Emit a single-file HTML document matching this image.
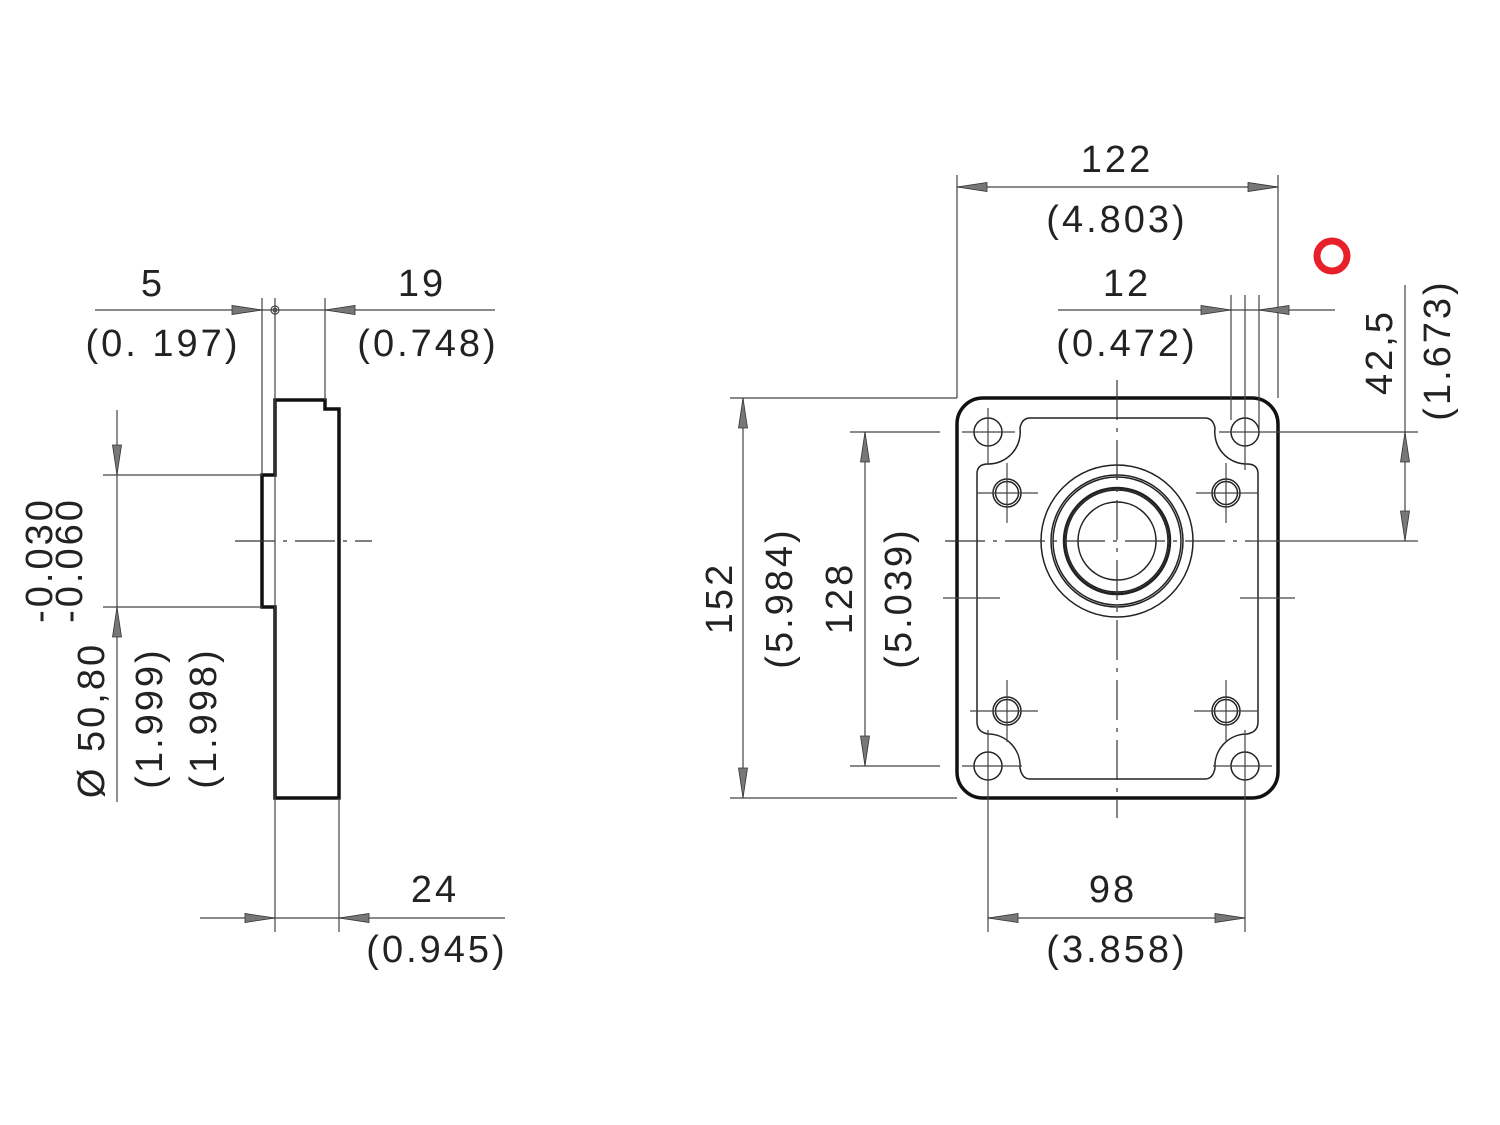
<!DOCTYPE html>
<html><head><meta charset="utf-8"><style>
html,body{margin:0;padding:0;background:#fff}
svg{display:block}
text{font-family:"Liberation Sans",sans-serif;font-size:38px;fill:#222;text-anchor:middle;letter-spacing:3px}
.t{stroke:#444;stroke-width:1.2;fill:none}
.k{stroke:#111;stroke-width:3.5;fill:none}
.m{stroke:#222;stroke-width:1.5;fill:none}
.c{stroke:#333;stroke-width:1.2;fill:none;stroke-dasharray:40 8 4 8}
</style></head><body>
<svg id="s" width="1500" height="1125" viewBox="0 0 1500 1125" xmlns="http://www.w3.org/2000/svg">
<!-- side view -->
<path class="k" d="M262,475 H275 V400 H325 V409 H339 V798 H275 V607 H262 Z"/>
<line class="c" x1="235" y1="541" x2="372" y2="541"/>
<line class="t" x1="262" y1="298" x2="262" y2="475"/>
<line class="t" x1="275" y1="298" x2="275" y2="932"/>
<line class="t" x1="325" y1="298" x2="325" y2="400"/>
<line class="t" x1="339" y1="798" x2="339" y2="932"/>
<line class="t" x1="95" y1="310" x2="495" y2="310"/>
<circle class="t" cx="275" cy="310" r="4"/><circle class="t" cx="275" cy="310" r="1.8"/>
<text x="153" y="296">5</text><text x="163" y="356">(0. 197)</text>
<text x="422" y="296">19</text><text x="428" y="356">(0.748)</text>
<line class="t" x1="200" y1="918" x2="505" y2="918"/>
<text x="435" y="902">24</text><text x="437" y="962">(0.945)</text>
<line class="t" x1="103" y1="475" x2="262" y2="475"/>
<line class="t" x1="103" y1="607" x2="262" y2="607"/>
<line class="t" x1="117" y1="410" x2="117" y2="802"/>
<text transform="translate(104,720) rotate(-90)">Ø 50,80</text>
<text transform="translate(162,718) rotate(-90)">(1.999)</text>
<text transform="translate(216,718) rotate(-90)">(1.998)</text>
<text transform="translate(52,560) rotate(-90)">-0.030</text>
<text transform="translate(82,560) rotate(-90)">-0.060</text>

<!-- front view -->
<rect class="k" x="957" y="398" width="321" height="400" rx="26"/>
<path class="m" d="M1030,418 H1205 Q1213,418 1215,428 A32 32 0 0 0 1247,464 Q1258,464 1258,474 V722 Q1258,732 1247,734 A32 32 0 0 0 1215,768 Q1213,779 1205,779 H1030 Q1022,779 1020,768 A32 32 0 0 0 988,734 Q977,732 977,722 V474 Q977,464 988,464 A32 32 0 0 0 1020,428 Q1022,418 1030,418 Z"/>
<g class="m">
<circle cx="988" cy="432" r="14"/><circle cx="1245" cy="432" r="14"/>
<circle cx="988" cy="766" r="14"/><circle cx="1245" cy="766" r="14"/>
<circle cx="1007" cy="493" r="14"/><circle cx="1007" cy="493" r="11.5"/>
<circle cx="1226" cy="493" r="14"/><circle cx="1226" cy="493" r="11.5"/>
<circle cx="1007" cy="711" r="14"/><circle cx="1007" cy="711" r="11.5"/>
<circle cx="1226" cy="711" r="14"/><circle cx="1226" cy="711" r="11.5"/>
<circle cx="1117" cy="541" r="76"/><circle cx="1117" cy="541" r="66"/><circle cx="1117" cy="541" r="64"/>
<circle cx="1117" cy="541" r="53" style="stroke-width:2.5"/><circle cx="1117" cy="541" r="51"/><circle cx="1117" cy="541" r="39"/>
</g>
<g class="t">
<line x1="962" y1="432" x2="1015" y2="432"/><line x1="988" y1="408" x2="988" y2="465"/>
<line x1="1219" y1="432" x2="1418" y2="432"/><line x1="1245" y1="295" x2="1245" y2="470"/>
<line x1="962" y1="766" x2="1022" y2="766"/><line x1="988" y1="730" x2="988" y2="932"/>
<line x1="1213" y1="766" x2="1272" y2="766"/><line x1="1245" y1="730" x2="1245" y2="932"/>
<line x1="977" y1="493" x2="1038" y2="493"/><line x1="1007" y1="463" x2="1007" y2="523"/>
<line x1="1196" y1="493" x2="1258" y2="493"/><line x1="1226" y1="463" x2="1226" y2="523"/>
<line x1="970" y1="711" x2="1038" y2="711"/><line x1="1007" y1="680" x2="1007" y2="742"/>
<line x1="1194" y1="711" x2="1258" y2="711"/><line x1="1226" y1="680" x2="1226" y2="742"/>
<line x1="943" y1="598" x2="1000" y2="598"/><line x1="1240" y1="598" x2="1295" y2="598"/>
</g>
<line class="c" x1="1117" y1="380" x2="1117" y2="818"/>
<line class="c" x1="945" y1="541" x2="1250" y2="541"/>
<line class="t" x1="1250" y1="541" x2="1418" y2="541"/>
<line class="t" x1="957" y1="175" x2="957" y2="398"/>
<line class="t" x1="1278" y1="175" x2="1278" y2="398"/>
<line class="t" x1="957" y1="187" x2="1278" y2="187"/>
<text x="1117" y="172">122</text><text x="1117" y="232">(4.803)</text>
<line class="t" x1="1231" y1="295" x2="1231" y2="420"/>
<line class="t" x1="1259" y1="295" x2="1259" y2="430"/>
<line class="t" x1="1058" y1="310" x2="1335" y2="310"/>
<text x="1127" y="296">12</text><text x="1127" y="356">(0.472)</text>
<line class="t" x1="1405" y1="285" x2="1405" y2="541"/>
<text transform="translate(1392,352) rotate(-90)">42,5</text>
<text transform="translate(1450,350) rotate(-90)">(1.673)</text>
<circle cx="1332" cy="256" r="15" fill="none" stroke="#e8202a" stroke-width="7"/>
<line class="t" x1="730" y1="398" x2="957" y2="398"/>
<line class="t" x1="730" y1="798" x2="957" y2="798"/>
<line class="t" x1="743" y1="398" x2="743" y2="798"/>
<text transform="translate(732,598) rotate(-90)">152</text>
<text transform="translate(792,598) rotate(-90)">(5.984)</text>
<line class="t" x1="850" y1="432" x2="940" y2="432"/>
<line class="t" x1="850" y1="766" x2="940" y2="766"/>
<line class="t" x1="865" y1="432" x2="865" y2="766"/>
<text transform="translate(852,598) rotate(-90)">128</text>
<text transform="translate(911,598) rotate(-90)">(5.039)</text>
<line class="t" x1="988" y1="918" x2="1245" y2="918"/>
<text x="1113" y="902">98</text><text x="1117" y="962">(3.858)</text>
<g id="arr"></g>
</svg>
<script>
(function(){
var g=document.getElementById('arr'),ns='http://www.w3.org/2000/svg';
// tip x,y and direction dx,dy
function a(x,y,dx,dy){var L=30,W=4.5,bx=x-dx*L,by=y-dy*L,px=-dy*W,py=dx*W;
var p=document.createElementNS(ns,'polygon');
p.setAttribute('points',x+','+y+' '+(bx+px)+','+(by+py)+' '+(bx-px)+','+(by-py));
p.setAttribute('fill','#777');p.setAttribute('stroke','#333');p.setAttribute('stroke-width','0.8');g.appendChild(p);}
a(262,310,1,0);a(325,310,-1,0);
a(275,918,1,0);a(339,918,-1,0);
a(117,475,0,1);a(117,607,0,-1);
a(957,187,-1,0);a(1278,187,1,0);
a(1231,310,1,0);a(1259,310,-1,0);
a(1405,432,0,-1);a(1405,541,0,1);
a(743,398,0,-1);a(743,798,0,1);
a(865,432,0,-1);a(865,766,0,1);
a(988,918,-1,0);a(1245,918,1,0);
})();
</script>
</body></html>
